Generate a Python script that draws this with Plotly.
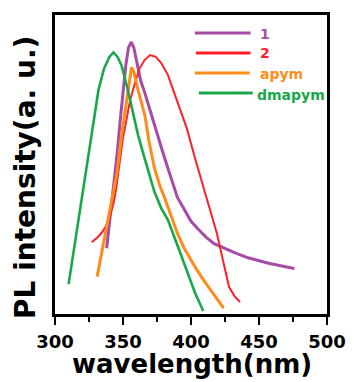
import plotly.graph_objects as go

# ---- data ----
wl_1 = [338, 340, 342, 344, 346, 348, 350, 352, 354, 356, 358, 360, 363, 366, 370, 375, 380, 385, 390,
        395, 400, 405, 411, 417, 424, 432, 442, 450, 457, 465, 470, 476]
pl_1 = [0.22, 0.30, 0.38, 0.46, 0.55, 0.65, 0.75, 0.83, 0.89, 0.91, 0.89, 0.85, 0.78, 0.74, 0.68, 0.60,
        0.53, 0.46, 0.39, 0.35, 0.31, 0.285, 0.257, 0.235, 0.22, 0.205, 0.188, 0.178, 0.17, 0.162, 0.158, 0.152]

wl_2 = [327, 331, 334, 337, 340, 343, 345, 347, 350, 353, 355, 358, 362, 366, 370, 374, 378, 383, 390,
        397, 403, 410, 415, 419, 424, 428, 432, 436]
pl_2 = [0.24, 0.255, 0.27, 0.29, 0.32, 0.37, 0.42, 0.49, 0.59, 0.66, 0.71, 0.76, 0.82, 0.85, 0.866, 0.86,
        0.84, 0.80, 0.71, 0.62, 0.52, 0.41, 0.33, 0.27, 0.17, 0.09, 0.06, 0.04]

wl_apym = [331, 334, 337, 340, 343, 345.5, 349, 352.7, 355, 356.3, 358, 361, 366, 369, 373, 377, 380.5,
           385, 390, 395, 400, 404, 409, 414, 419, 424]
pl_apym = [0.125, 0.20, 0.27, 0.34, 0.41, 0.47, 0.60, 0.71, 0.79, 0.825, 0.81, 0.75, 0.666, 0.58, 0.49,
           0.43, 0.39, 0.33, 0.27, 0.22, 0.18, 0.15, 0.115, 0.082, 0.05, 0.02]

wl_dmapym = [310, 313, 316, 320, 323, 326, 329, 332, 336, 340, 343, 346, 349, 353, 357, 361, 365, 369,
             373, 378, 383, 390, 397, 403, 409]
pl_dmapym = [0.10, 0.19, 0.28, 0.40, 0.49, 0.58, 0.66, 0.75, 0.82, 0.86, 0.875, 0.86, 0.83, 0.76, 0.68,
             0.60, 0.535, 0.47, 0.41, 0.355, 0.315, 0.23, 0.14, 0.07, 0.01]

series_names = ["1", "2", "apym", "dmapym"]
series_colors = ["#A64CA8", "#FF1F26", "#FF8C1A", "#18A84A"]
series_widths = [3, 2, 3, 2.6]
x_ticks = [300, 350, 400, 450, 500]

FONT = "DejaVu Sans"

fig = go.Figure()
for name, xs, ys, col, w in zip(series_names,
                                [wl_1, wl_2, wl_apym, wl_dmapym],
                                [pl_1, pl_2, pl_apym, pl_dmapym],
                                series_colors, series_widths):
    fig.add_trace(go.Scatter(x=xs, y=ys, mode="lines", name=name,
                             line=dict(color=col, width=w), showlegend=False))

# hand-placed legend (line sample + coloured label)
leg_lines = [(0.514, 0.719, 0.940), (0.518, 0.719, 0.873), (0.514, 0.716, 0.806), (0.529, 0.727, 0.739)]
leg_text = [(0.748, 0.935), (0.748, 0.874), (0.748, 0.802), (0.737, 0.733)]
for (x0, x1, yy), (tx, ty), name, col in zip(leg_lines, leg_text, series_names, series_colors):
    fig.add_shape(type="line", xref="paper", yref="paper", x0=x0, x1=x1, y0=yy, y1=yy,
                  line=dict(color=col, width=3))
    fig.add_annotation(xref="paper", yref="paper", x=tx, y=ty, text=name, showarrow=False,
                       xanchor="left", yanchor="middle",
                       font=dict(family=FONT, size=14, color=col, weight="bold"))

# axis titles
fig.add_annotation(xref="paper", yref="paper", x=-0.108, y=0.457, text="PL intensity(a. u.)",
                   textangle=-90, showarrow=False, xanchor="center", yanchor="middle",
                   font=dict(family=FONT, size=28, color="black", weight="bold"))
fig.add_annotation(xref="paper", yref="paper", x=0.504, y=-0.168, text="wavelength(nm)",
                   showarrow=False, xanchor="center", yanchor="middle",
                   font=dict(family=FONT, size=26, color="black", weight="bold"))

fig.update_xaxes(range=[300, 500], tickvals=x_ticks, ticktext=[str(v) for v in x_ticks],
                 ticks="outside", ticklen=8, tickwidth=2, tickcolor="black",
                 minor=dict(ticks="outside", ticklen=5, tickwidth=1.5, tickcolor="black", dtick=25,
                            tick0=300),
                 showline=True, linewidth=2.5, linecolor="black", mirror=True,
                 showgrid=False, zeroline=False, ticklabelstandoff=2,
                 tickfont=dict(family=FONT, size=18, color="black", weight="bold"))
fig.update_yaxes(range=[0, 1.0], showticklabels=False, ticks="",
                 showline=True, linewidth=2.5, linecolor="black", mirror=True,
                 showgrid=False, zeroline=False)

fig.update_layout(width=358, height=382, margin=dict(l=55, r=25, t=12, b=68),
                  paper_bgcolor="white", plot_bgcolor="white")

fig.write_html("out.html", config={"displayModeBar": False},
               post_script="document.body.style.margin='0';document.body.style.padding='0';"
                           "document.body.style.overflow='hidden';")
